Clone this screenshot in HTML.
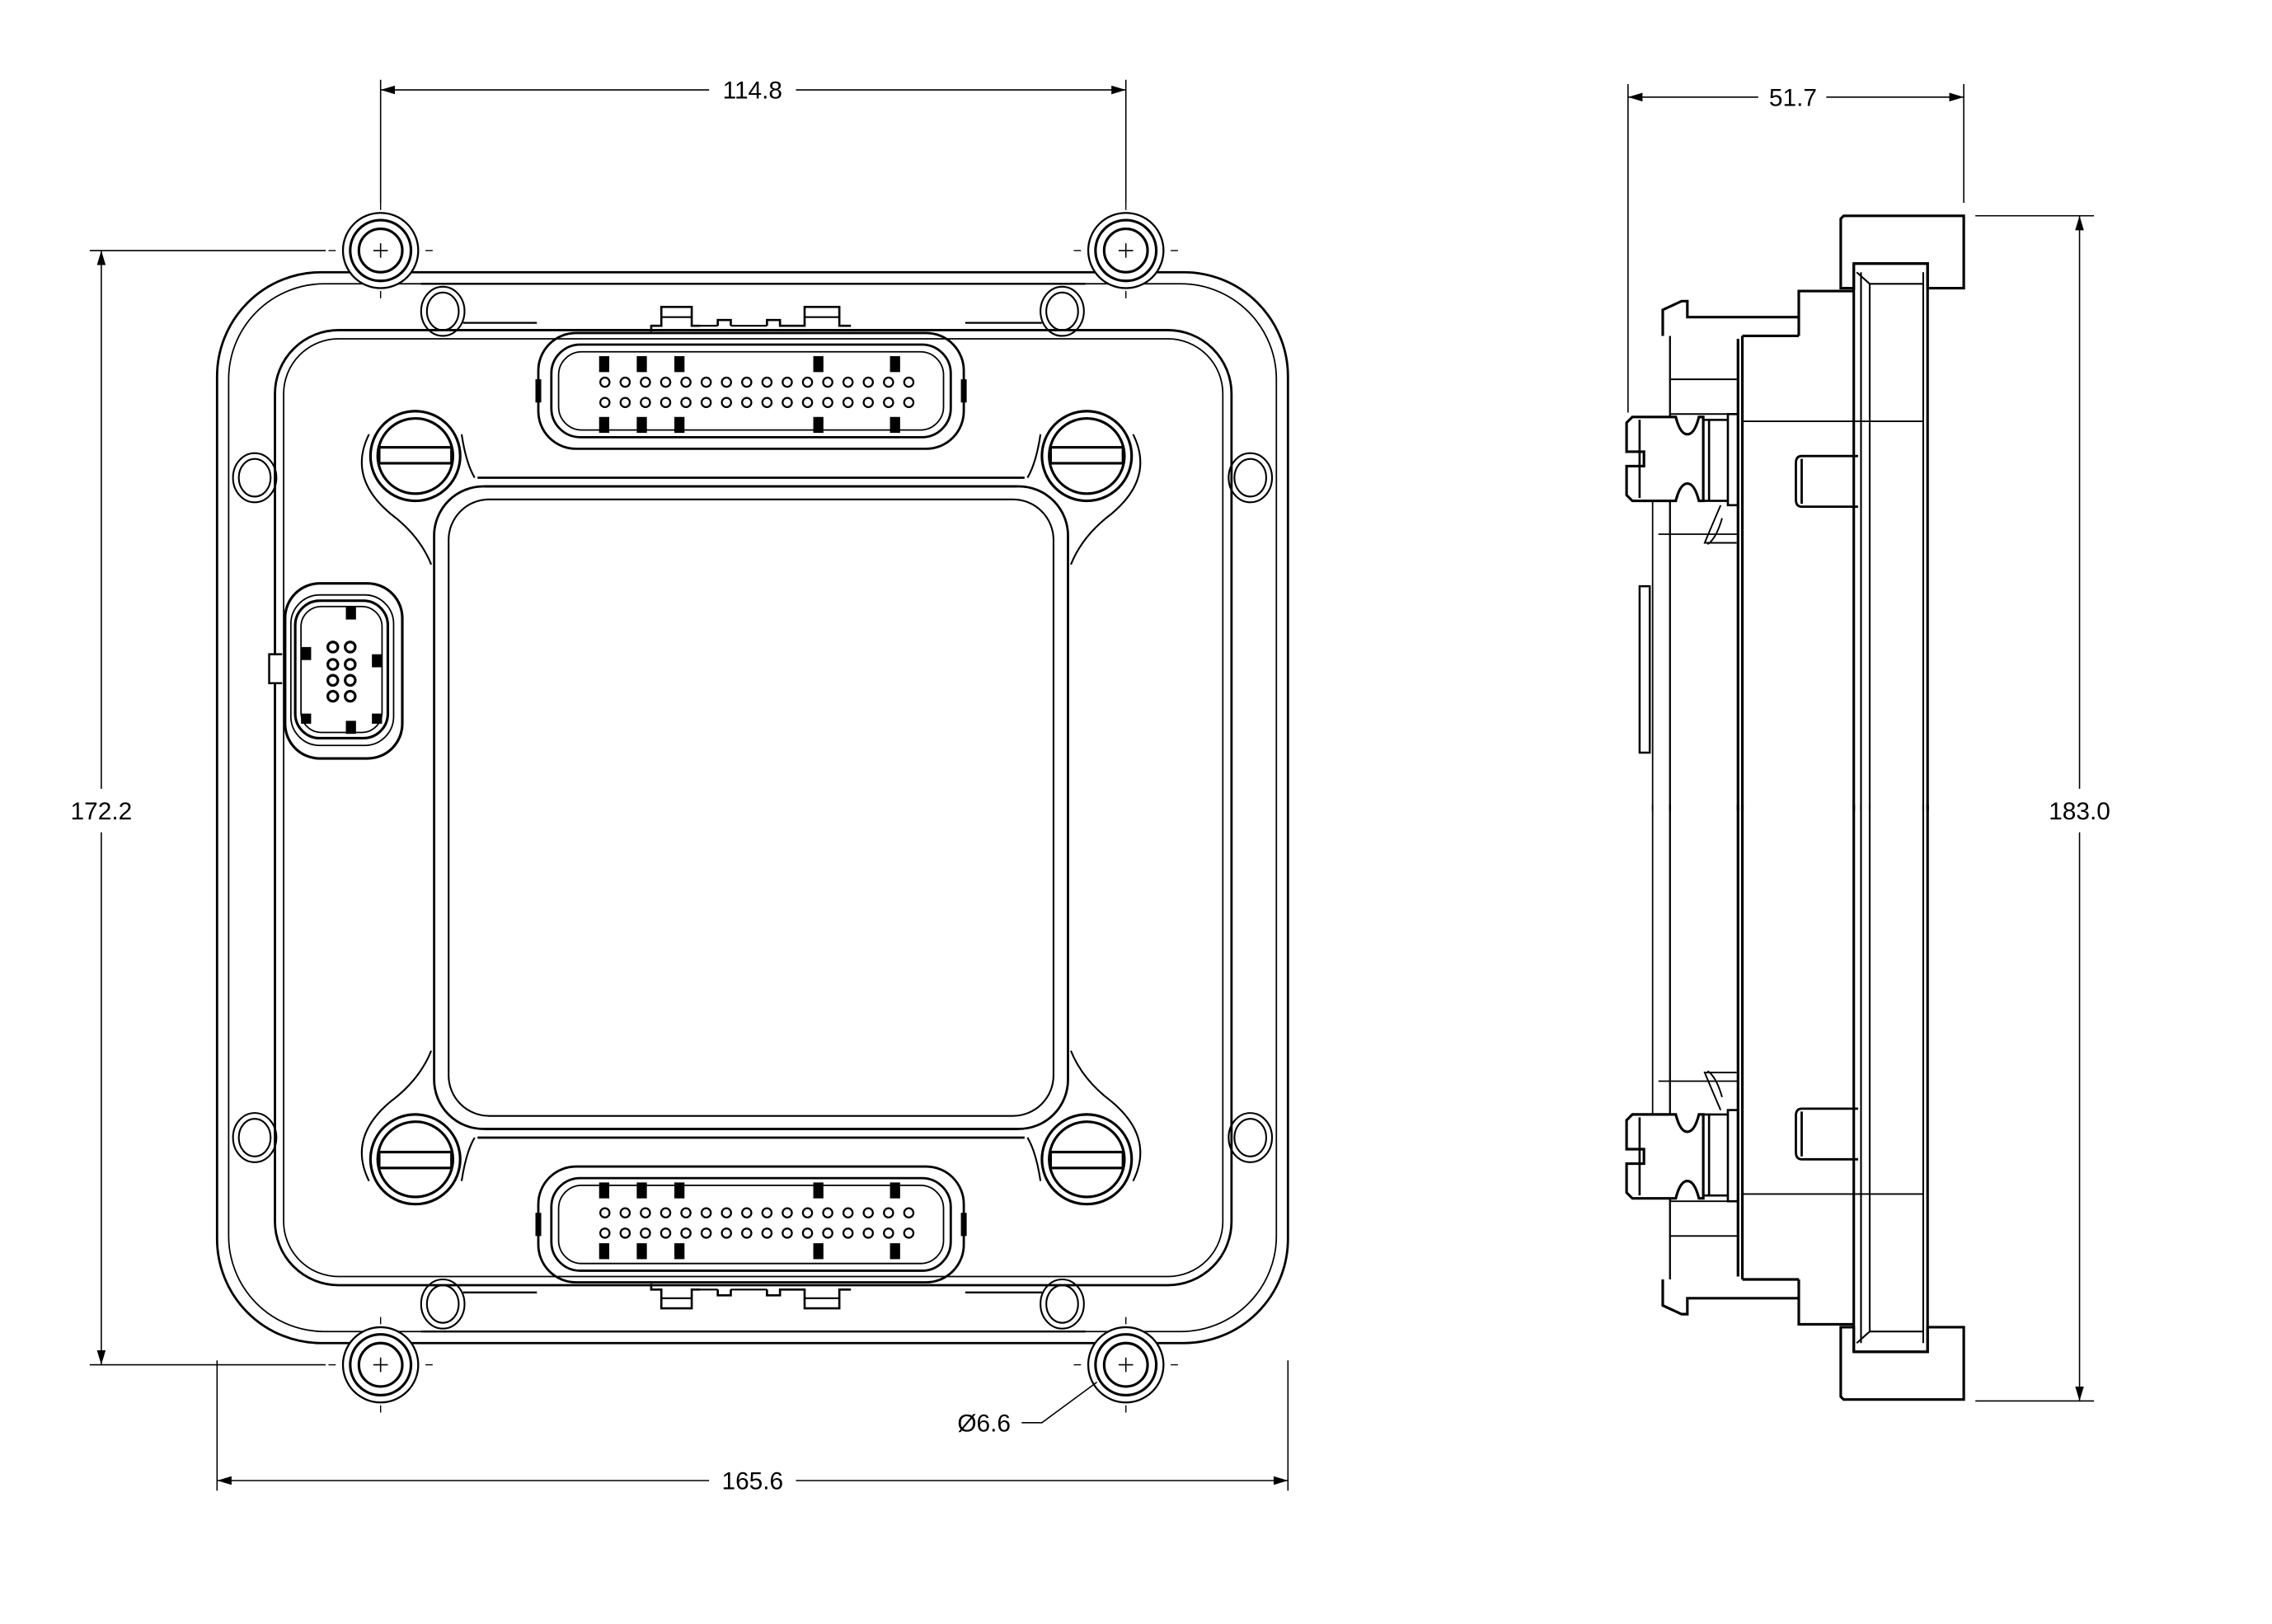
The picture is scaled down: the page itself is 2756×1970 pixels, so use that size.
<!DOCTYPE html>
<html><head><meta charset="utf-8"><style>
html,body{margin:0;padding:0;background:#fff;}
svg{display:block;}
text{font-family:"Liberation Sans",sans-serif;font-size:17px;fill:#000;}
</style></head><body>
<svg width="2756" height="1970" viewBox="0 0 1570 1122" xmlns="http://www.w3.org/2000/svg">
<defs>
<marker id="ar" viewBox="0 0 10 6" refX="10" refY="3" markerWidth="10" markerHeight="6" orient="auto-start-reverse" markerUnits="userSpaceOnUse"><path d="M0,0 L10,3 L0,6 z" fill="#000"/></marker>
<g id="fhalf" fill="none" stroke="#000">
  <!-- ears -->
  <circle cx="263" cy="173" r="26" fill="#fff" stroke-width="1.3"/>
  <circle cx="263" cy="173" r="21" stroke-width="1.8"/>
  <circle cx="263" cy="173" r="15" stroke-width="1.8"/>
  <circle cx="778" cy="173" r="26" fill="#fff" stroke-width="1.3"/>
  <circle cx="778" cy="173" r="21" stroke-width="1.8"/>
  <circle cx="778" cy="173" r="15" stroke-width="1.8"/>
  <path d="M258,173h10M263,168v10M773,173h10M778,168v10" stroke-width="0.9"/>
  <path d="M263,140v5M263,201v5M778,140v5M778,201v5M232,173h-5M294,173h5M747,173h-5M809,173h5" stroke-width="0.8"/>
  <!-- top edge between ears -->
  <path d="M289,188H752M291,196H750" stroke-width="1.4"/>
  <!-- small holes -->
  <g stroke-width="1.2">
  <ellipse cx="306" cy="215" rx="15" ry="17"/><ellipse cx="306" cy="215" rx="11" ry="13"/>
  <ellipse cx="734" cy="215" rx="15" ry="17"/><ellipse cx="734" cy="215" rx="11" ry="13"/>
  <ellipse cx="176" cy="330" rx="15" ry="17"/><ellipse cx="176" cy="330" rx="11" ry="13"/>
  <ellipse cx="864" cy="330" rx="15" ry="17"/><ellipse cx="864" cy="330" rx="11" ry="13"/>
  </g>
  <!-- screws -->
  <g stroke-width="1.8">
  <circle cx="287" cy="315" r="31"/><circle cx="287" cy="315" r="26"/>
  <rect x="262" y="309" width="50" height="11" fill="#fff"/>
  <circle cx="751" cy="315" r="31"/><circle cx="751" cy="315" r="26"/>
  <rect x="726" y="309" width="50" height="11" fill="#fff"/>
  </g>
  <path d="M255,300 Q240,330 270,355 Q290,370 298,390 M319,300 Q322,320 328,330 M783,300 Q798,330 768,355 Q748,370 740,390 M719,300 Q716,320 710,330" stroke-width="1.2"/>
  <!-- top connector -->
  <g stroke-width="1.6">
  <rect x="372" y="230" width="294" height="80" rx="26"/>
  <rect x="381" y="238" width="276" height="64" rx="20"/>
  <rect x="386" y="243" width="266" height="54" rx="16" stroke-width="1"/>
  <path d="M372,262v16M666,262v16" stroke-width="4"/>
  <path d="M372,230 M450,229 V225 H457 V212 H478 V225 H484 M496,225 V221 H505 V225 M530,225 V221 H539 V225 H556 V212 H580 V225 H588" stroke-width="1.5"/>
  <path d="M484,225H496M505,225H530M457,219H478M556,219H580" stroke-width="1.2"/>
  <path d="M320,223H371M667,223H720" stroke-width="1.3"/>
  </g>
  <g fill="#000" stroke="none">
  <rect x="414" y="246" width="7" height="11"/><rect x="440" y="246" width="7" height="11"/><rect x="466" y="246" width="7" height="11"/><rect x="562" y="246" width="7" height="11"/><rect x="615" y="246" width="7" height="11"/>
  <rect x="414" y="288" width="7" height="11"/><rect x="440" y="288" width="7" height="11"/><rect x="466" y="288" width="7" height="11"/><rect x="562" y="288" width="7" height="11"/><rect x="615" y="288" width="7" height="11"/>
  </g>
  <g stroke-width="1.3">
  <circle cx="418" cy="264" r="3.2"/><circle cx="432" cy="264" r="3.2"/><circle cx="446" cy="264" r="3.2"/><circle cx="460" cy="264" r="3.2"/><circle cx="474" cy="264" r="3.2"/><circle cx="488" cy="264" r="3.2"/><circle cx="502" cy="264" r="3.2"/><circle cx="516" cy="264" r="3.2"/><circle cx="530" cy="264" r="3.2"/><circle cx="544" cy="264" r="3.2"/><circle cx="558" cy="264" r="3.2"/><circle cx="572" cy="264" r="3.2"/><circle cx="586" cy="264" r="3.2"/><circle cx="600" cy="264" r="3.2"/><circle cx="614" cy="264" r="3.2"/><circle cx="628" cy="264" r="3.2"/>
  <circle cx="418" cy="278" r="3.2"/><circle cx="432" cy="278" r="3.2"/><circle cx="446" cy="278" r="3.2"/><circle cx="460" cy="278" r="3.2"/><circle cx="474" cy="278" r="3.2"/><circle cx="488" cy="278" r="3.2"/><circle cx="502" cy="278" r="3.2"/><circle cx="516" cy="278" r="3.2"/><circle cx="530" cy="278" r="3.2"/><circle cx="544" cy="278" r="3.2"/><circle cx="558" cy="278" r="3.2"/><circle cx="572" cy="278" r="3.2"/><circle cx="586" cy="278" r="3.2"/><circle cx="600" cy="278" r="3.2"/><circle cx="614" cy="278" r="3.2"/><circle cx="628" cy="278" r="3.2"/>
  </g>
  <!-- window top lines -->
  <path d="M330,330H708M335,336H703" stroke-width="1.6"/>
</g>
<g id="shalf" fill="none" stroke="#000">
  <!-- flange tab -->
  <path d="M1274,149H1357V199H1332V182H1281V199H1272V151Z" stroke-width="1.8" fill="#fff"/>
  <!-- plate -->
  <path d="M1281,182H1332V560M1281,182V560" stroke-width="1.8"/>
  <path d="M1283,188L1292,196H1329M1292,196V560M1329,188V560M1286,188V560" stroke-width="1.2"/>
  <!-- block -->
  <path d="M1243,232V201H1281M1243,232H1204" stroke-width="1.8"/>
  <!-- lip -->
  <path d="M1149,232V214L1162,208H1166V219H1243" stroke-width="1.8"/>
  <!-- body -->
  <path d="M1204,232V560M1201,234V560" stroke-width="1.8"/>
  <path d="M1154,232V288M1154,346V560" stroke-width="1.3"/>
  <path d="M1154,262H1201M1154,286H1197M1204,291H1329" stroke-width="1.1"/>
  <!-- screw -->
  <path d="M1128,288H1158Q1161,300 1166,300Q1171,300 1174,288H1177V346H1174Q1171,334 1166,334Q1161,334 1158,346H1128L1124,342V322H1136V312H1124V292Z" stroke-width="1.8" fill="#fff"/>
  <path d="M1133,290V344M1177,290H1194V346H1177M1181,290V346M1194,286V349H1201V286Z" stroke-width="1.5"/>
  <path d="M1189,349Q1180,370 1178,375H1200M1190,358Q1186,372 1180,376" stroke-width="1.1"/>
  <path d="M1142,346V560M1146,369H1201" stroke-width="1"/>
  <!-- pin -->
  <path d="M1284,315H1245Q1241,315 1241,320V345Q1241,350 1245,350H1284M1245,317V348" stroke-width="1.6"/>
</g>
</defs>

<!-- FRONT VIEW -->
<g fill="none" stroke="#000">
  <rect x="150" y="188" width="740" height="740" rx="72" stroke-width="1.6"/>
  <rect x="158" y="196" width="724" height="724" rx="66" stroke-width="1"/>
  <rect x="190" y="228" width="661" height="660" rx="44" stroke-width="1.6"/>
  <rect x="196" y="234" width="649" height="648" rx="38" stroke-width="1"/>
  <rect x="300" y="336" width="438" height="444" rx="34" stroke-width="1.6"/>
  <rect x="310" y="345" width="418" height="426" rx="28" stroke-width="1.2"/>
  <path d="M150,500V620M890,500V620" stroke-width="0.1"/>
</g>
<use href="#fhalf"/>
<use href="#fhalf" transform="translate(0,1116) scale(1,-1)"/>
<!-- left connector -->
<g fill="none" stroke="#000">
  <path d="M195,452H186V472H195" stroke-width="1.4" fill="#fff"/>
  <rect x="197" y="403" width="81" height="121" rx="24" stroke-width="1.8" fill="#fff"/>
  <rect x="201" y="411" width="71" height="104" rx="20" stroke-width="1"/>
  <rect x="204" y="415" width="64" height="95" rx="17" stroke-width="1.8"/>
  <rect x="208" y="419" width="56" height="87" rx="14" stroke-width="1"/>
  <g stroke-width="1.8"><circle cx="230" cy="447" r="3.5"/><circle cx="242" cy="447" r="3.5"/><circle cx="230" cy="459" r="3.5"/><circle cx="242" cy="459" r="3.5"/><circle cx="230" cy="470" r="3.5"/><circle cx="242" cy="470" r="3.5"/><circle cx="230" cy="481" r="3.5"/><circle cx="242" cy="481" r="3.5"/></g>
  <g fill="#000" stroke="none"><rect x="239" y="419" width="7" height="9"/><rect x="239" y="498" width="7" height="9"/><rect x="208" y="447" width="7" height="9"/><rect x="257" y="452" width="7" height="9"/><rect x="208" y="493" width="7" height="7"/><rect x="257" y="493" width="7" height="7"/></g>
</g>

<!-- SIDE VIEW -->
<use href="#shalf"/>
<use href="#shalf" transform="translate(0,1116) scale(1,-1)"/>
<path d="M1133,405H1140V520H1133Z" fill="none" stroke="#000" stroke-width="1.4"/>

<!-- DIMENSIONS -->
<g stroke="#000" stroke-width="0.9" fill="none">
  <path d="M263,55V140M778,55V140"/>
  <path d="M263,62H490M550,62H778" marker-start="url(#ar)" marker-end="url(#ar)"/>
  <path d="M62,173H225M62,943H225"/>
  <path d="M70,173V545M70,575V943" marker-start="url(#ar)" marker-end="url(#ar)"/>
  <path d="M150,940V1030M890,940V1030"/>
  <path d="M150,1023H490M550,1023H890" marker-start="url(#ar)" marker-end="url(#ar)"/>
  <path d="M706,983H720L758,955"/>
  <path d="M1125,58V285M1357,58V140"/>
  <path d="M1125,67H1215M1262,67H1357" marker-start="url(#ar)" marker-end="url(#ar)"/>
  <path d="M1365,149H1447M1365,968H1447"/>
  <path d="M1437,149V545M1437,575V968" marker-start="url(#ar)" marker-end="url(#ar)"/>
</g>
<text x="520" y="68" text-anchor="middle">114.8</text>
<text x="70" y="566" text-anchor="middle">172.2</text>
<text x="520" y="1029" text-anchor="middle">165.6</text>
<text x="680" y="989" text-anchor="middle">Ø6.6</text>
<text x="1239" y="73" text-anchor="middle">51.7</text>
<text x="1437" y="566" text-anchor="middle">183.0</text>
</svg>
</body></html>
